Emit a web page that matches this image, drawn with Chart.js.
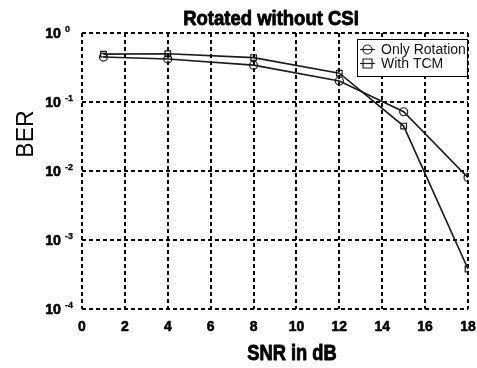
<!DOCTYPE html>
<html><head><meta charset="utf-8">
<script src="https://cdn.jsdelivr.net/npm/chart.js@4.4.1/dist/chart.umd.min.js"></script>
<style>html,body{margin:0;padding:0;background:#fff;}#wrap{width:477px;height:368px;}</style>
</head><body><div id="wrap"><canvas id="c" width="477" height="368"></canvas></div>
<script>
const snr = [1, 4, 8, 12, 15, 18];
const onlyRotation = [0.448, 0.42, 0.342, 0.202, 0.0722, 0.00802];
const withTCM = [0.494, 0.50, 0.44, 0.262, 0.0448, 0.00038];
const xTicks = [0, 2, 4, 6, 8, 10, 12, 14, 16, 18];
const yTickExponents = [0, -1, -2, -3, -4];
const titleText = 'Rotated without CSI';
const xLabel = 'SNR in dB';
const yLabel = 'BER';

const SANS = '"Liberation Sans", Arial, sans-serif';

function squeezeText(ctx, text, x, y, font, sx, align, heavy) {
  ctx.save();
  ctx.font = font;
  ctx.textAlign = align || 'center';
  ctx.translate(x, y);
  ctx.scale(sx, 1);
  ctx.fillText(text, 0, 0);
  if (heavy) {
    ctx.strokeStyle = '#000';
    ctx.lineWidth = heavy;
    ctx.lineJoin = 'round';
    ctx.strokeText(text, 0, 0);
  }
  ctx.restore();
}

const textPlugin = {
  id: 'texts',
  afterDraw(chart) {
    const ctx = chart.ctx, ys = chart.scales.y, xs = chart.scales.x;
    ctx.save();
    ctx.fillStyle = '#000';
    ctx.textBaseline = 'alphabetic';
    // title
    squeezeText(ctx, titleText, 271, 25, 'bold 21px ' + SANS, 0.88, 'center', 0.9);
    // x label
    squeezeText(ctx, xLabel, 292, 360, 'bold 22px ' + SANS, 0.83, 'center', 0.9);
    // x tick labels
    xTicks.forEach(v => {
      squeezeText(ctx, String(v), xs.getPixelForValue(v), 331, 'bold 15px ' + SANS, 0.93, 'center', 0.6);
    });
    // y label
    ctx.save();
    ctx.translate(33, 134);
    ctx.rotate(-Math.PI / 2);
    ctx.font = '23px ' + SANS;
    ctx.textAlign = 'center';
    ctx.fillText(yLabel, 0, 0);
    ctx.restore();
    // y tick labels
    yTickExponents.forEach(e => {
      const py = ys.getPixelForValue(Math.pow(10, e));
      squeezeText(ctx, '10', 61, py + 5, 'bold 15px ' + SANS, 0.95, 'right', 0.6);
      squeezeText(ctx, String(e), 65, py - 1, 'bold 9px ' + SANS, 1, 'left', 0.3);
    });
    // legend
    const lx = 357, ly = 39, lw = 111, lh = 38;
    ctx.fillStyle = '#fff';
    ctx.fillRect(lx, ly, lw, lh);
    ctx.strokeStyle = '#000'; ctx.lineWidth = 1;
    ctx.strokeRect(lx + 0.5, ly + 0.5, lw - 1, lh - 1);
    chart.data.datasets.forEach((ds, i) => {
      const cy = ly + 10.5 + i * 14;
      ctx.strokeStyle = '#222'; ctx.lineWidth = 1.2;
      ctx.beginPath(); ctx.moveTo(lx + 3, cy); ctx.lineTo(lx + 18, cy); ctx.stroke();
      ctx.beginPath();
      if (ds.pointStyle === 'circle') ctx.arc(lx + 10.5, cy, 4.5, 0, Math.PI * 2);
      else ctx.rect(lx + 6, cy - 4.5, 9, 9);
      ctx.stroke();
      ctx.fillStyle = '#111';
      ctx.font = '14px ' + SANS;
      ctx.textAlign = 'left'; ctx.textBaseline = 'middle';
      ctx.fillText(ds.label, lx + 24, cy + 1);
    });
    ctx.restore();
  }
};

const mkData = arr => snr.map((x, i) => ({x: x, y: arr[i]}));

new Chart(document.getElementById('c'), {
  type: 'line',
  data: {
    datasets: [
      {label: 'Only Rotation', data: mkData(onlyRotation), borderColor: '#1a1a1a', borderWidth: 1.6,
       pointStyle: 'circle', pointRadius: 4, pointBorderColor: '#1a1a1a', pointBackgroundColor: 'rgba(0,0,0,0)', pointBorderWidth: 1.2, tension: 0},
      {label: 'With TCM', data: mkData(withTCM), borderColor: '#1a1a1a', borderWidth: 1.6,
       pointStyle: 'rect', pointRadius: 4, pointBorderColor: '#1a1a1a', pointBackgroundColor: 'rgba(0,0,0,0)', pointBorderWidth: 1.2, tension: 0}
    ]
  },
  options: {
    responsive: false, animation: false, devicePixelRatio: 1,
    layout: {padding: {top: 33, right: 9, left: 0, bottom: 0}},
    plugins: {legend: {display: false}, title: {display: false}, tooltip: {enabled: false}},
    scales: {
      x: {
        type: 'linear', min: 0, max: 18,
        afterBuildTicks(s) { s.ticks = xTicks.map(v => ({value: v})); },
        ticks: {display: false},
        grid: {color: '#000', lineWidth: 2, drawTicks: false},
        border: {display: false, dash: [4, 3]},
        afterFit(s) { s.height = 59; }
      },
      y: {
        type: 'logarithmic', min: 1e-4, max: 1,
        afterBuildTicks(s) { s.ticks = yTickExponents.map(e => ({value: Math.pow(10, e)})); },
        ticks: {display: false},
        grid: {color: '#000', lineWidth: 2, drawTicks: false},
        border: {display: false, dash: [4, 3]},
        afterFit(s) { s.width = 82; }
      }
    }
  },
  plugins: [textPlugin]
});
</script></body></html>
